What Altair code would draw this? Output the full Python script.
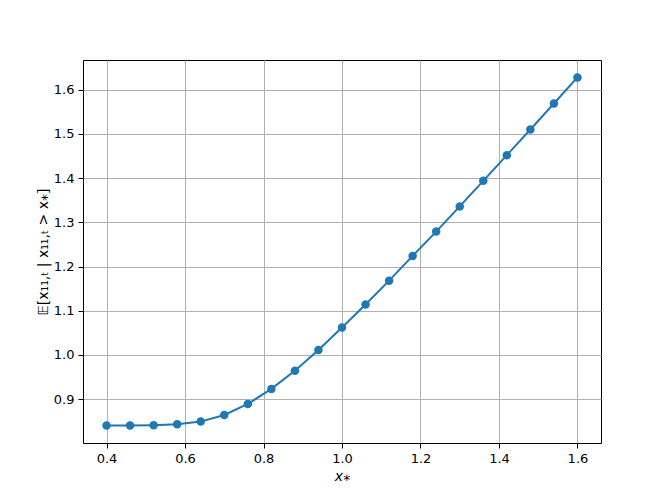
import altair as alt
import pandas as pd

x_star = [0.40, 0.46, 0.52, 0.58, 0.64, 0.70, 0.76, 0.82, 0.88, 0.94, 1.00,
          1.06, 1.12, 1.18, 1.24, 1.30, 1.36, 1.42, 1.48, 1.54, 1.60]
cond_exp = [0.840, 0.840, 0.841, 0.843, 0.849, 0.864, 0.889, 0.923, 0.964, 1.011, 1.062,
            1.114, 1.168, 1.224, 1.279, 1.336, 1.394, 1.452, 1.510, 1.569, 1.628]
x_ticks = [0.4, 0.6, 0.8, 1.0, 1.2, 1.4, 1.6]
y_ticks = [0.9, 1.0, 1.1, 1.2, 1.3, 1.4, 1.5, 1.6]

df = pd.DataFrame({"x": x_star, "y": cond_exp})

axis_common = dict(
    labelFont="DejaVu Sans", labelFontSize=13, labelColor="black",
    titleFont="DejaVu Sans", titleFontSize=14, titleColor="black", titleFontWeight="normal",
    domain=False, tickColor="black", tickSize=5, tickWidth=1, labelPadding=4,
    grid=True, gridColor="#b0b0b0", gridWidth=1, format=".1f",
)

xenc = alt.X("x:Q", scale=alt.Scale(domain=[0.34, 1.66], nice=False, zero=False),
             axis=alt.Axis(values=x_ticks, title="x⁎", titleFontStyle="italic",
                           titlePadding=4, **axis_common))
yenc = alt.Y("y:Q", scale=alt.Scale(domain=[0.8006, 1.6674], nice=False, zero=False),
             axis=alt.Axis(values=y_ticks, title="𝔼[x₁₁,ₜ | x₁₁,ₜ > x⁎]",
                           titlePadding=3, **axis_common))

base = alt.Chart(df).encode(x=xenc, y=yenc)
line = base.mark_line(color="#1f77b4", strokeWidth=2)
pts = base.mark_circle(color="#1f77b4", size=72, opacity=1)

chart = (line + pts).properties(
    width=518, height=383,
    autosize=alt.AutoSizeParams(type="none"),
    padding={"left": 75, "top": 52, "right": 50, "bottom": 41},
    background="white",
).configure_view(stroke="black", strokeWidth=1)

chart.save("out.html", embed_options={"renderer": "svg", "actions": False})
